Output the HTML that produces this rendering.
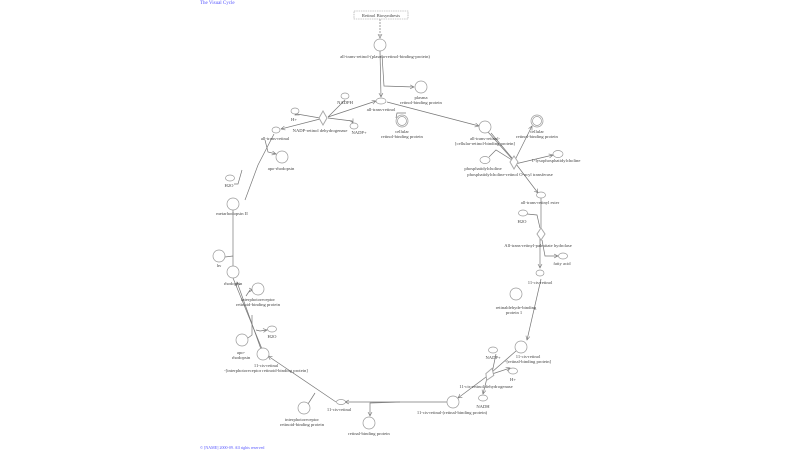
<!DOCTYPE html>
<html><head><meta charset="utf-8"><style>
html,body{margin:0;padding:0;background:#fff;width:800px;height:450px;overflow:hidden}
svg{display:block}
text{font-family:"Liberation Serif",serif;font-size:4.6px;fill:#444;text-anchor:middle}
.n{fill:#fff;stroke:#999;stroke-width:0.7}
.l{fill:none;stroke:#777;stroke-width:0.7}
.d{fill:#fff;stroke:#aaa;stroke-width:1}
</style></head><body>
<svg width="800" height="450" viewBox="0 0 800 450">
<defs><marker id="a" markerWidth="5" markerHeight="5" refX="4" refY="2.5" orient="auto" markerUnits="userSpaceOnUse"><path d="M0,0.5 L4,2.5 L0,4.5" fill="none" stroke="#777" stroke-width="0.6"/></marker></defs>
<text x="200" y="4" style="fill:#55f;text-anchor:start;font-size:5px">The Visual Cycle</text>
<text x="200" y="449" style="fill:#55f;text-anchor:start;font-size:4px">© [NAME] 2000-09. All rights reserved</text>

<!-- edges -->
<line class="l" x1="380" y1="19" x2="380" y2="38" stroke-dasharray="2,1" marker-end="url(#a)"/>
<polyline class="l" points="380,51 381,97" marker-end="url(#a)"/>
<polyline class="l" points="382,55 384,86 414,87" marker-end="url(#a)"/>
<polyline class="l" points="387,102 479,126" marker-end="url(#a)"/>
<polyline class="l" points="328,117 376,101" marker-end="url(#a)"/>
<polyline class="l" points="328,117 345,100"/>
<polyline class="l" points="328,118 352,121 353,123" marker-end="url(#a)"/>
<polyline class="l" points="320,118 297,114 295,115" marker-end="url(#a)"/>
<polyline class="l" points="320,119 281,129" marker-end="url(#a)"/>
<polyline class="l" points="396,118 397,113 406,113"/>
<polyline class="l" points="274,134 258,165 245,200" />
<polyline class="l" points="265,140 268,152 276,154" marker-end="url(#a)"/>
<polyline class="l" points="234,184 238,184 242,170"/>
<polyline class="l" points="233,210 233,266" />
<polyline class="l" points="225,257 233,256"/>
<polyline class="l" points="233,278 262,349" />
<polyline class="l" points="262,352 237,282" marker-end="url(#a)"/>
<polyline class="l" points="246,296 250,290 253,290" marker-end="url(#a)"/>
<polyline class="l" points="256,330 260,331 267,330" marker-end="url(#a)"/>
<polyline class="l" points="248,338 252,335 252,315"/>
<polyline class="l" points="336,402 268,356" marker-end="url(#a)"/>
<polyline class="l" points="308,404 315,393"/>
<polyline class="l" points="447,402 345,402" marker-end="url(#a)"/>
<polyline class="l" points="400,402 370,403 370,416" marker-end="url(#a)"/>
<polyline class="l" points="490,374 458,398" marker-end="url(#a)"/>
<polyline class="l" points="492,372 516,351"/>
<polyline class="l" points="492,373 496,354"/>
<polyline class="l" points="492,374 510,368" marker-end="url(#a)"/>
<polyline class="l" points="487,378 483,394" marker-end="url(#a)"/>
<polyline class="l" points="541,279 527,340" marker-end="url(#a)"/>
<polyline class="l" points="540,238 540,268" marker-end="url(#a)"/>
<polyline class="l" points="541,198 541,228"/>
<polyline class="l" points="527,214 537,215 540,228"/>
<polyline class="l" points="542,240 545,256 558,256" marker-end="url(#a)"/>
<polyline class="l" points="488,132 513,160 538,193" marker-end="url(#a)"/>
<polyline class="l" points="491,133 512,158"/>
<polyline class="l" points="515,160 532,126" marker-end="url(#a)"/>
<polyline class="l" points="489,157 496,150 512,160"/>
<polyline class="l" points="515,164 553,155" marker-end="url(#a)"/>

<!-- nodes -->
<rect x="354" y="11" width="54" height="8" fill="#fff" stroke="#999" stroke-width="0.6" stroke-dasharray="1.5,0.8"/>
<text x="381" y="17">Retinol Biosynthesis</text>
<circle class="n" cx="380" cy="45" r="6"/><text x="385" y="58">all-trans-retinol-(plasma-retinol-binding-protein)</text>
<circle class="n" cx="421" cy="87" r="6"/><text x="421" y="99">plasma</text><text x="421" y="104">retinol-binding protein</text>
<ellipse class="n" cx="381" cy="101" rx="5" ry="3"/><text x="381" y="111">all-trans-retinol</text>
<ellipse class="n" cx="345" cy="96" rx="4" ry="3"/><text x="345" y="104">NADPH</text>
<ellipse class="n" cx="295" cy="111" rx="4" ry="3"/><text x="294" y="121">H+</text>
<polygon class="d" points="323,111 327,118 323,125 319,118"/>
<text x="320" y="132">NADP-retinol dehydrogenase</text>
<ellipse class="n" cx="354" cy="126" rx="4" ry="3"/><text x="359" y="134">NADP+</text>
<ellipse class="n" cx="276" cy="130" rx="4" ry="3"/><text x="275" y="140">all-trans-retinal</text>
<circle class="n" cx="402" cy="121" r="6"/><circle class="n" cx="402" cy="121" r="4.5"/><text x="402" y="133">cellular</text><text x="402" y="138">retinol-binding protein</text>
<circle class="n" cx="485" cy="127" r="6"/><text x="485" y="140">all-trans-retinol-</text><text x="485" y="145">[cellular-retinol-binding protein]</text>
<circle class="n" cx="537" cy="121" r="6"/><circle class="n" cx="537" cy="121" r="4.5"/><text x="537" y="133">cellular</text><text x="537" y="138">retinol-binding protein</text>
<ellipse class="n" cx="485" cy="160" rx="5" ry="3.5"/><text x="483" y="170">phosphatidylcholine</text>
<polygon class="d" points="514,156 518,162 514,169 510,162"/>
<text x="510" y="176">phosphatidylcholine-retinol O-acyl transferase</text>
<ellipse class="n" cx="558" cy="154" rx="5" ry="3.5"/><text x="556" y="162">1-lysophosphatidylcholine</text>
<ellipse class="n" cx="541" cy="195" rx="4.5" ry="3"/><text x="540" y="204">all-trans-retinyl ester</text>
<ellipse class="n" cx="523" cy="213" rx="4.5" ry="3"/><text x="522" y="223">H2O</text>
<polygon class="d" points="541,228 545,234 541,240 537,234"/>
<text x="538" y="247">All-trans-retinyl-palmitate hydrolase</text>
<ellipse class="n" cx="563" cy="256" rx="4.5" ry="3"/><text x="562" y="265">fatty acid</text>
<ellipse class="n" cx="540" cy="273" rx="4" ry="3"/><text x="540" y="284">11-cis-retinol</text>
<circle class="n" cx="516" cy="294" r="6"/><text x="516" y="309">retinaldehyde-binding</text><text x="514" y="314">protein 1</text>
<circle class="n" cx="521" cy="347" r="6"/><text x="528" y="358">11-cis-retinol</text><text x="528" y="363">-[retinal-binding protein]</text>
<ellipse class="n" cx="493" cy="350" rx="4.5" ry="3"/><text x="493" y="359">NADP+</text>
<ellipse class="n" cx="513" cy="371" rx="4.5" ry="3"/><text x="513" y="381">H+</text>
<polygon class="d" points="490,368 494,374 489,381 486,375" transform="rotate(20 490 374)"/>
<text x="486" y="388">11-cis-retinol dehydrogenase</text>
<ellipse class="n" cx="483" cy="398" rx="4.5" ry="3"/><text x="483" y="408">NADH</text>
<circle class="n" cx="453" cy="402" r="6"/><text x="452" y="414">11-cis-retinal-(retinal-binding protein)</text>
<circle class="n" cx="369" cy="423" r="6"/><text x="369" y="435">retinal-binding protein</text>
<ellipse class="n" cx="341" cy="402" rx="4.5" ry="2.5"/><text x="339" y="411">11-cis-retinal</text>
<circle class="n" cx="304" cy="408" r="6"/><text x="302" y="421">interphotoreceptor</text><text x="302" y="426">retinoid-binding protein</text>
<circle class="n" cx="263" cy="354" r="6"/><text x="266" y="367">11-cis-retinal</text><text x="266" y="372">-[interphotoreceptor retinoid-binding protein]</text>
<circle class="n" cx="242" cy="340" r="6"/><text x="241" y="354">apo-</text><text x="241" y="359">rhodopsin</text>
<ellipse class="n" cx="272" cy="329" rx="4.5" ry="3"/><text x="272" y="338">H2O</text>
<circle class="n" cx="258" cy="289" r="6"/><text x="258" y="301">interphotoreceptor</text><text x="258" y="306">retinoid-binding protein</text>
<circle class="n" cx="233" cy="272" r="6"/><text x="233" y="285">rhodopsin</text>
<circle class="n" cx="219" cy="256" r="6"/><text x="219" y="267">hν</text>
<circle class="n" cx="233" cy="204" r="6"/><text x="232" y="215">metarhodopsin II</text>
<ellipse class="n" cx="230" cy="178" rx="4.5" ry="3"/><text x="229" y="187">H2O</text>
<circle class="n" cx="282" cy="157" r="6"/><text x="281" y="170">apo-rhodopsin</text>
</svg>
</body></html>
